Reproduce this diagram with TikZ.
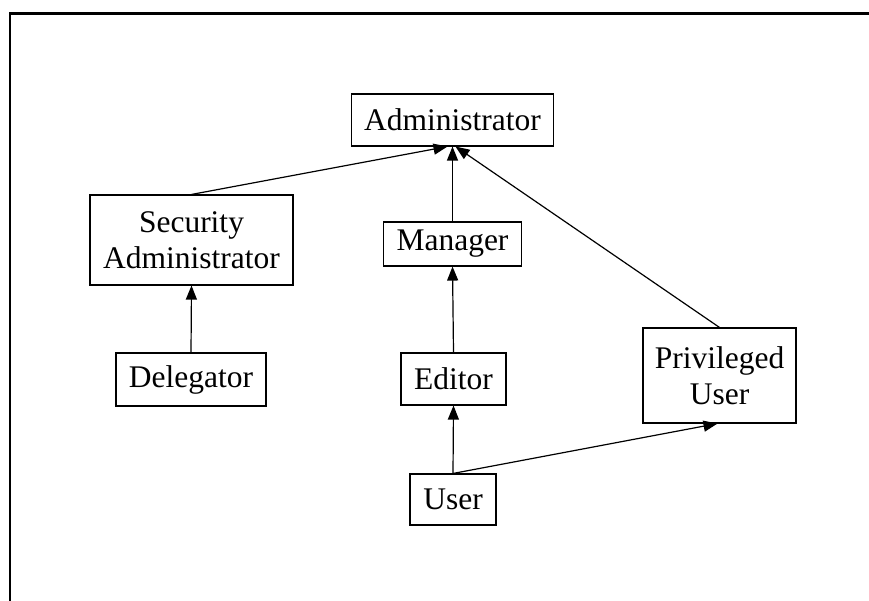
\documentclass[tikz,border=0pt]{standalone}
\usepackage{fontspec}
\setmainfont{Liberation Serif}
\usetikzlibrary{arrows.meta}
\begin{document}
\begin{tikzpicture}[x=1pt,y=-1pt,
  role/.style={draw,line width=1.1pt,rectangle,inner sep=0pt,align=center,
    font=\fontsize{31.5}{36}\selectfont},
  link/.style={line width=1.2pt,-{Triangle[length=14pt,width=11pt]}}]
\useasboundingbox (0,0) rectangle (869,601);
\fill[white] (0,0) rectangle (869,601);
\draw[line width=2.6pt] (10,601) -- (10,13.5) -- (869,13.5);
\node[role,minimum width=202pt,minimum height=52pt] (admin) at (452.5,120) {Administrator};
\node[role,minimum width=203pt,minimum height=90pt] (secadm) at (191.5,240) {Security\\Administrator};
\node[role,minimum width=138pt,minimum height=44pt] (mgr) at (452.5,244) {Manager};
\node[role,minimum width=150pt,minimum height=53pt] (deleg) at (191,379.5) {Delegator};
\node[role,minimum width=105pt,minimum height=52pt] (editor) at (453.5,379) {Editor};
\node[role,minimum width=153pt,minimum height=95pt] (priv) at (719.5,375.5) {Privileged\\User};
\node[role,minimum width=86pt,minimum height=51pt] (user) at (453,499.5) {User};
\draw[link] (secadm.north) -- ([xshift=-5pt]admin.south);
\draw[link] (mgr.north) -- (admin.south);
\draw[link] (priv.north) -- ([xshift=3pt]admin.south);
\draw[link] (deleg.north) -- (secadm.south);
\draw[link] (editor.north) -- (mgr.south);
\draw[link] (user.north) -- (editor.south);
\draw[link] (user.north) -- ([xshift=-2pt]priv.south);
\end{tikzpicture}
\end{document}
